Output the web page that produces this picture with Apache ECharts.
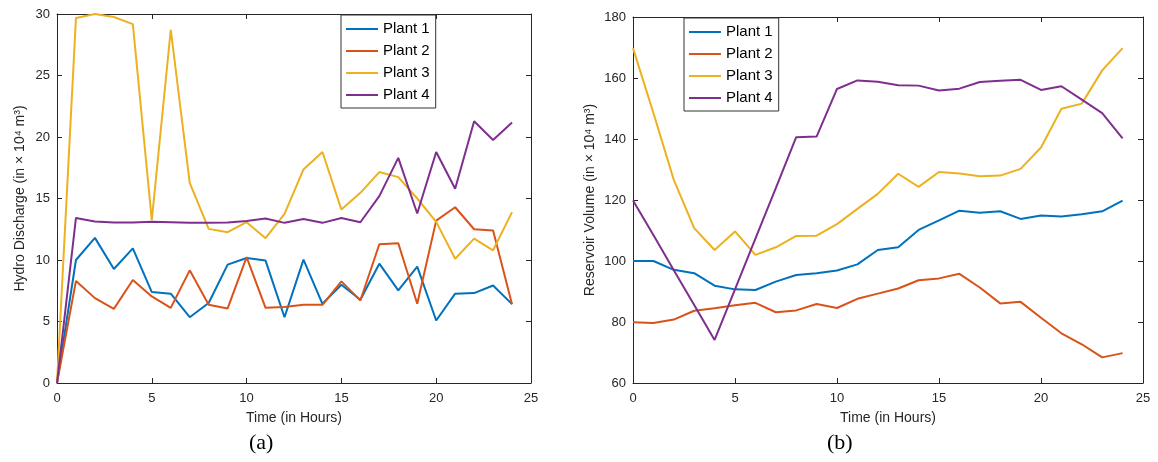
<!DOCTYPE html>
<html><head><meta charset="utf-8">
<script src="https://cdn.jsdelivr.net/npm/echarts@6/dist/echarts.min.js"></script>
<style>html,body{margin:0;padding:0;background:#fff}#c{width:1158px;height:462px}</style>
</head><body><div id="c"></div>
<script>
const hours = [0,1,2,3,4,5,6,7,8,9,10,11,12,13,14,15,16,17,18,19,20,21,22,23,24];
const seriesNames = ['Plant 1','Plant 2','Plant 3','Plant 4'];
const colors = ['#0072BD','#D95319','#EDB120','#7E2F8E'];
// (a) Hydro discharge
const dis1 = [0,10.0,11.8,9.27,10.95,7.39,7.26,5.35,6.5,9.62,10.16,9.95,5.35,10.03,6.44,7.99,6.77,9.7,7.53,9.46,5.08,7.26,7.31,7.93,6.41];
const dis2 = [0,8.3,6.9,6.03,8.37,7.04,6.11,9.16,6.36,6.06,10.24,6.11,6.17,6.36,6.36,8.26,6.71,11.28,11.36,6.44,13.2,14.29,12.5,12.39,6.41];
const dis3 = [0,29.67,30.0,29.76,29.18,13.23,28.72,16.28,12.53,12.26,13.07,11.77,13.75,17.36,18.78,14.1,15.46,17.15,16.74,15.0,13.1,10.1,11.74,10.79,13.89];
const dis4 = [0,13.42,13.13,13.04,13.04,13.1,13.07,13.02,13.02,13.04,13.18,13.37,13.02,13.34,13.02,13.42,13.07,15.19,18.3,13.78,18.78,15.79,21.28,19.76,21.17];
// (b) Reservoir volume
const vol1 = [100.0,100.0,97.1,96.0,91.9,90.7,90.5,93.25,95.4,96.0,96.9,98.9,103.6,104.5,110.2,113.3,116.5,115.8,116.3,113.8,114.9,114.6,115.3,116.3,119.8];
const vol2 = [79.9,79.7,80.8,83.7,84.5,85.5,86.3,83.2,83.8,85.9,84.6,87.6,89.3,91.0,93.7,94.3,95.8,91.3,86.1,86.6,81.4,76.3,72.7,68.4,69.8];
const vol3 = [169.8,148.5,126.6,110.8,103.6,109.7,102.0,104.5,108.2,108.3,112.1,117.1,122.0,128.6,124.3,129.2,128.7,127.8,128.0,130.2,137.2,149.9,151.6,162.5,169.8];
const vol4 = [119.8,108.5,97.0,85.6,74.1,90.7,107.3,123.9,140.6,140.8,156.4,159.2,158.8,157.6,157.5,155.9,156.5,158.7,159.1,159.4,156.1,157.3,152.9,148.5,140.2];
const xTicks = [0,5,10,15,20,25];

const font = 'Liberation Sans, Arial, sans-serif';
const txt = '#262626';
const axLine = {lineStyle:{color:'#262626',width:1}};
const tick = {show:true,inside:true,length:5,lineStyle:{color:'#262626'}};

function xAx(grid, pos, showLabel, name){
  return {type:'value',gridIndex:grid,position:pos,min:0,max:25,interval:5,
    axisLine:{show:true,onZero:false,...axLine},axisTick:tick,splitLine:{show:false},
    axisLabel:{show:showLabel,color:txt,fontFamily:font,fontSize:13,margin:9},
    name:name||'',nameLocation:'middle',nameGap:28,
    nameTextStyle:{color:txt,fontFamily:font,fontSize:14}};
}
function yAx(grid, pos, min, max, itv, showLabel, name){
  return {type:'value',gridIndex:grid,position:pos,min:min,max:max,interval:itv,
    axisLine:{show:true,onZero:false,...axLine},axisTick:tick,splitLine:{show:false},
    axisLabel:{show:showLabel,color:txt,fontFamily:font,fontSize:13,margin:7},
    name:name||'',nameLocation:'middle',nameGap:showLabel?(max>100?36:30):0,
    nameTextStyle:{color:txt,fontFamily:font,fontSize:14}};
}
function mk(data, i, xi, yi){
  return {name:seriesNames[i],type:'line',xAxisIndex:xi,yAxisIndex:yi,
    data:hours.map((h,k)=>[h,data[k]]),symbol:'none',
    lineStyle:{color:colors[i],width:2},itemStyle:{color:colors[i]},z:3};
}
const legendBase = {orient:'vertical',icon:'rect',itemWidth:32,itemHeight:2,itemGap:4,
  borderColor:'#333',borderWidth:1,backgroundColor:'#fff',padding:[5,6,4,5],
  textStyle:{color:'#000',fontFamily:font,fontSize:15,lineHeight:18},data:seriesNames};

const chart = echarts.init(document.getElementById('c'),null,{renderer:'canvas'});
chart.setOption({
  animation:false,
  color:colors,
  grid:[{left:57,right:627,top:14,bottom:79},{left:633,right:15,top:17,bottom:79}],
  xAxis:[xAx(0,'bottom',true,'Time (in Hours)'),xAx(0,'top',false),xAx(1,'bottom',true,'Time (in Hours)'),xAx(1,'top',false)],
  yAxis:[yAx(0,'left',0,30,5,true,'Hydro Discharge (in \u00d7 10\u2074 m\u00b3)'),yAx(0,'right',0,30,5,false),
         yAx(1,'left',60,180,20,true,'Reservoir Volume (in \u00d7 10\u2074 m\u00b3)'),yAx(1,'right',60,180,20,false)],
  legend:[{...legendBase,left:341,top:15},{...legendBase,left:684,top:18}],
  series:[
    mk(dis1,0,0,0),mk(dis2,1,0,0),mk(dis3,2,0,0),mk(dis4,3,0,0),
    mk(vol1,0,2,2),mk(vol2,1,2,2),mk(vol3,2,2,2),mk(vol4,3,2,2)
  ],
  graphic:[
    {type:'text',left:249,top:432,style:{text:'(a)',fill:'#000',font:'22px "Liberation Serif", "Times New Roman", serif'}},
    {type:'text',left:827,top:432,style:{text:'(b)',fill:'#000',font:'22px "Liberation Serif", "Times New Roman", serif'}}
  ]
});
</script></body></html>
